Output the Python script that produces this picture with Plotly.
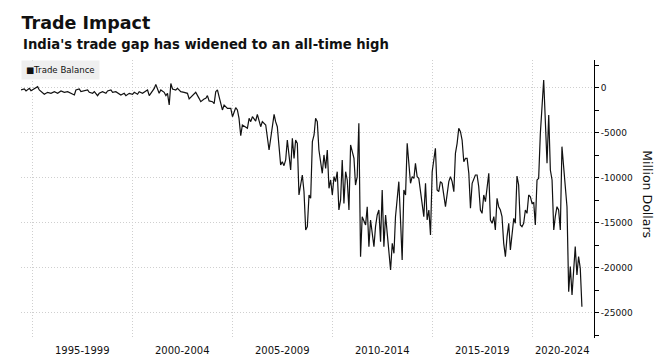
import plotly.graph_objects as go

title_text = "Trade Impact"
subtitle_text = "India's trade gap has widened to an all-time high"
series_name = "Trade Balance"
y_title = "Million Dollars"
period_labels = ["1995-1999", "2000-2004", "2005-2009", "2010-2014", "2015-2019", "2020-2024"]
y_tick_values = [0, -5000, -10000, -15000, -20000, -25000]
x_range = ["1994-06-01", "2023-02-07"]
y_range = [-27780, 3110]

dates = [
    "1994-06", "1994-08", "1994-09", "1994-11", "1994-12", "1995-02", "1995-04", "1995-05", "1995-07", "1995-08",
    "1995-10", "1995-12", "1996-02", "1996-04", "1996-06", "1996-08", "1996-10", "1996-12", "1997-02", "1997-03",
    "1997-05", "1997-06", "1997-08", "1997-10", "1997-11", "1998-01", "1998-02", "1998-04", "1998-05", "1998-07",
    "1998-09", "1998-10", "1998-12", "1999-01", "1999-03", "1999-05", "1999-06", "1999-08", "1999-09", "1999-11",
    "2000-01", "2000-02", "2000-04", "2000-05", "2000-07", "2000-09", "2000-10", "2000-11", "2000-12", "2001-02",
    "2001-03", "2001-04", "2001-05", "2001-06", "2001-08", "2001-09", "2001-10", "2001-11", "2001-12", "2002-01",
    "2002-03",
    "2002-04", "2002-06", "2002-08", "2002-10", "2002-11", "2003-01", "2003-03", "2003-05", "2003-06", "2003-08",
    "2003-09", "2003-10", "2003-11", "2004-01", "2004-02", "2004-03", "2004-04", "2004-05", "2004-07", "2004-08",
    "2004-10", "2004-12", "2005-01", "2005-03", "2005-04", "2005-05", "2005-06", "2005-07", "2005-09", "2005-10",
    "2005-11", "2005-12", "2006-01", "2006-03", "2006-04", "2006-06", "2006-07", "2006-09", "2006-11", "2007-01",
    "2007-02", "2007-03", "2007-04", "2007-06", "2007-07", "2007-08", "2007-09", "2007-10", "2007-11", "2007-12",
    "2008-01", "2008-02", "2008-03", "2008-04", "2008-05", "2008-07", "2008-08", "2008-09", "2008-10", "2008-11",
    "2008-12", "2009-01", "2009-02", "2009-03", "2009-04",
    "2009-05", "2009-07", "2009-08", "2009-09", "2009-10", "2009-11", "2009-12", "2010-01", "2010-02", "2010-03",
    "2010-04", "2010-05", "2010-06", "2010-07", "2010-08", "2010-09", "2010-10", "2010-11", "2010-12", "2011-02",
    "2011-03", "2011-04", "2011-05", "2011-06", "2011-07", "2011-09", "2011-10", "2011-11", "2011-12", "2012-02",
    "2012-03", "2012-04", "2012-05", "2012-06", "2012-07", "2012-08", "2012-09", "2012-10", "2012-12", "2013-01",
    "2013-02", "2013-03", "2013-05", "2013-06", "2013-07", "2013-08", "2013-09", "2013-10", "2013-12", "2014-01",
    "2014-02", "2014-03", "2014-04", "2014-05", "2014-06", "2014-08", "2014-09", "2014-10", "2014-11", "2014-12",
    "2015-01", "2015-03", "2015-04", "2015-05", "2015-06", "2015-07", "2015-09", "2015-10", "2015-11", "2015-12",
    "2016-01", "2016-02", "2016-03", "2016-04", "2016-05", "2016-06", "2016-07", "2016-08", "2016-09",
    "2016-10", "2016-11", "2016-12", "2017-01", "2017-03", "2017-04", "2017-05", "2017-06", "2017-07", "2017-08",
    "2017-09", "2017-11", "2017-12", "2018-01", "2018-02", "2018-03", "2018-04", "2018-05", "2018-06", "2018-07",
    "2018-08", "2018-09", "2018-10", "2018-11", "2018-12", "2019-01", "2019-02", "2019-03", "2019-04", "2019-05",
    "2019-06", "2019-07", "2019-08", "2019-09", "2019-10", "2019-11", "2019-12", "2020-01", "2020-02", "2020-03",
    "2020-04", "2020-05", "2020-06", "2020-08", "2020-09", "2020-10", "2020-11", "2020-12", "2021-01", "2021-02",
    "2021-03", "2021-04", "2021-05", "2021-06", "2021-07", "2021-08", "2021-09", "2021-10", "2021-11", "2021-12",
    "2022-01", "2022-02", "2022-03", "2022-04", "2022-05", "2022-06", "2022-07",
]

trade_balance = [
    -220, -110, -330, -40, -300, -110, 150, -220, -590, -700,
    -480, -590, -410, -590, -330, -480, -410, -630, -780, -220,
    -110, -410, -330, -220, -480, -590, -410, -850, -590, -410,
    -590, -330, -220, -480, -410, -700, -780, -590, -850, -590,
    -700, -480, -700, -410, -590, -330, -220, -850, -590, -40,
    400, -220, -590, -220, -480, -850, -590, -1890, 500, -110,
    -220,
    -40, -410, -480, -590, -1220, -850, -480, -1150, -1520, -1220,
    -1150, -850, -1440, -1520, -1740, -410, -220, -960, -2440, -1890,
    -2260, -2260, -3190, -2190, -2440, -3370, -5300, -4110, -4300, -4480,
    -3370, -3740, -3190, -3670, -2930, -4300, -3740, -4110, -6890, -4480,
    -2930, -3740, -4300, -8560, -8190, -8630, -8000, -5780, -7440, -9110,
    -5590, -7820, -5780, -6150, -11890, -9670, -11520, -15780, -15410, -11890,
    -12260, -5960, -5220, -3370, -3740,
    -6890, -9480, -7440, -8930, -6890, -11150, -10220, -11890, -9850, -10410,
    -9300, -13560, -12440, -8000, -12820, -9300, -10220, -13560, -6330, -7820,
    -10780, -9850, -3930, -18740, -14300, -15220, -13190, -17630, -14670, -17630,
    -15410, -14110, -13560, -17070, -11330, -17630, -14110, -16150, -20220, -17260,
    -18370, -14300, -10410, -14670, -19110, -11330, -11890, -6150, -10590, -9850,
    -10040, -8370, -9850, -10040, -11520, -14300, -10590, -14670, -13560, -16330,
    -9300, -6700, -11330, -11520, -10410, -10590, -13190, -12070, -10410, -9850,
    -10410, -11520, -7260, -6150, -4480, -4850, -5780, -8190, -7820,
    -7820, -9480, -13370, -10590, -9670, -9670, -10960, -13560, -13930, -11890,
    -12630, -9480, -14670, -15040, -14300, -15780, -12260, -13190, -13560, -14300,
    -17260, -18740, -16520, -15040, -18000, -16520, -14480, -15040, -9780, -10780,
    -15220, -15410, -15040, -13560, -13930, -11890, -12080, -12820, -12740, -15220,
    -10220, -10040, -5040, 890, -3560, -8370, -3000, -9110, -10220, -15780,
    -14300, -13190, -13560, -15780, -6520, -8740, -11330, -13190, -22630, -19850,
    -23000, -20220, -17630, -20780, -18740, -20040, -24300,
]

FONT = "DejaVu Sans"
GRID = "#cfcfcf"
GRID_DASH = "1px,2px"

fig = go.Figure()
fig.add_trace(go.Scatter(
    x=dates, y=trade_balance, mode="lines", name=series_name,
    line=dict(color="#111111", width=1.2), showlegend=False,
))

annotations = []
# period labels centred between the five-year gridlines
for i, lbl in enumerate(period_labels):
    start = int(lbl[:4])
    last = i == len(period_labels) - 1
    annotations.append(dict(
        x=x_range[1] if last else f"{start + 2}-07-01", xref="x", y=0, yref="paper",
        yanchor="top", xanchor="right" if last else "center",
        xshift=-2 if last else 0, yshift=-5, showarrow=False,
        text=lbl, font=dict(family=FONT, size=10, color="#111"),
    ))

# subtitle
annotations.append(dict(
    x=0, xref="paper", y=1.09, yref="paper", xanchor="left", yanchor="top",
    showarrow=False, text=f"<b>{subtitle_text}</b>",
    font=dict(family=FONT, size=13.2, color="#111"),
))

# legend box
annotations.append(dict(
    x=0, xref="paper", y=1, yref="paper", xanchor="left", yanchor="top",
    showarrow=False, text="■" + series_name, bgcolor="#efefef", borderpad=4,
    font=dict(family=FONT, size=8.6, color="#111"),
))

# right axis title, reading top to bottom
annotations.append(dict(
    x=1.092, xref="paper", y=0.518, yref="paper", xanchor="center", yanchor="middle",
    showarrow=False, text=y_title, textangle=90,
    font=dict(family=FONT, size=12.5, color="#111"),
))

fig.update_layout(
    width=672, height=357, autosize=False,
    margin=dict(l=21, r=78, t=60, b=19),
    paper_bgcolor="white", plot_bgcolor="white",
    title=dict(
        text=f"<b>{title_text}</b>", xref="container", x=0.032, xanchor="left",
        yref="container", y=0.953, yanchor="top",
        font=dict(family=FONT, size=17.5, color="#111"),
    ),
    annotations=annotations,
    xaxis=dict(
        type="date", range=x_range, showgrid=True, gridcolor=GRID, griddash=GRID_DASH,
        gridwidth=1, tick0="1995-01-01", dtick="M60", showticklabels=False,
        ticks="", showline=False, zeroline=False,
    ),
    yaxis=dict(
        side="right", range=y_range, tickmode="array", tickvals=y_tick_values,
        ticktext=[str(v) for v in y_tick_values],
        showgrid=True, gridcolor=GRID, griddash=GRID_DASH, gridwidth=1,
        zeroline=False, showline=True, linecolor="black", linewidth=1,
        ticks="outside", ticklen=4, tickcolor="black", tickwidth=1,
        tickfont=dict(family=FONT, size=9, color="#111"),
        minor=dict(ticks="outside", ticklen=4, tickcolor="black", tick0=0, dtick=2500, showgrid=False),
    ),
)

fig.write_html(
    "out.html",
    config={"displayModeBar": False},
    post_script="document.body.style.margin='0';",
)
